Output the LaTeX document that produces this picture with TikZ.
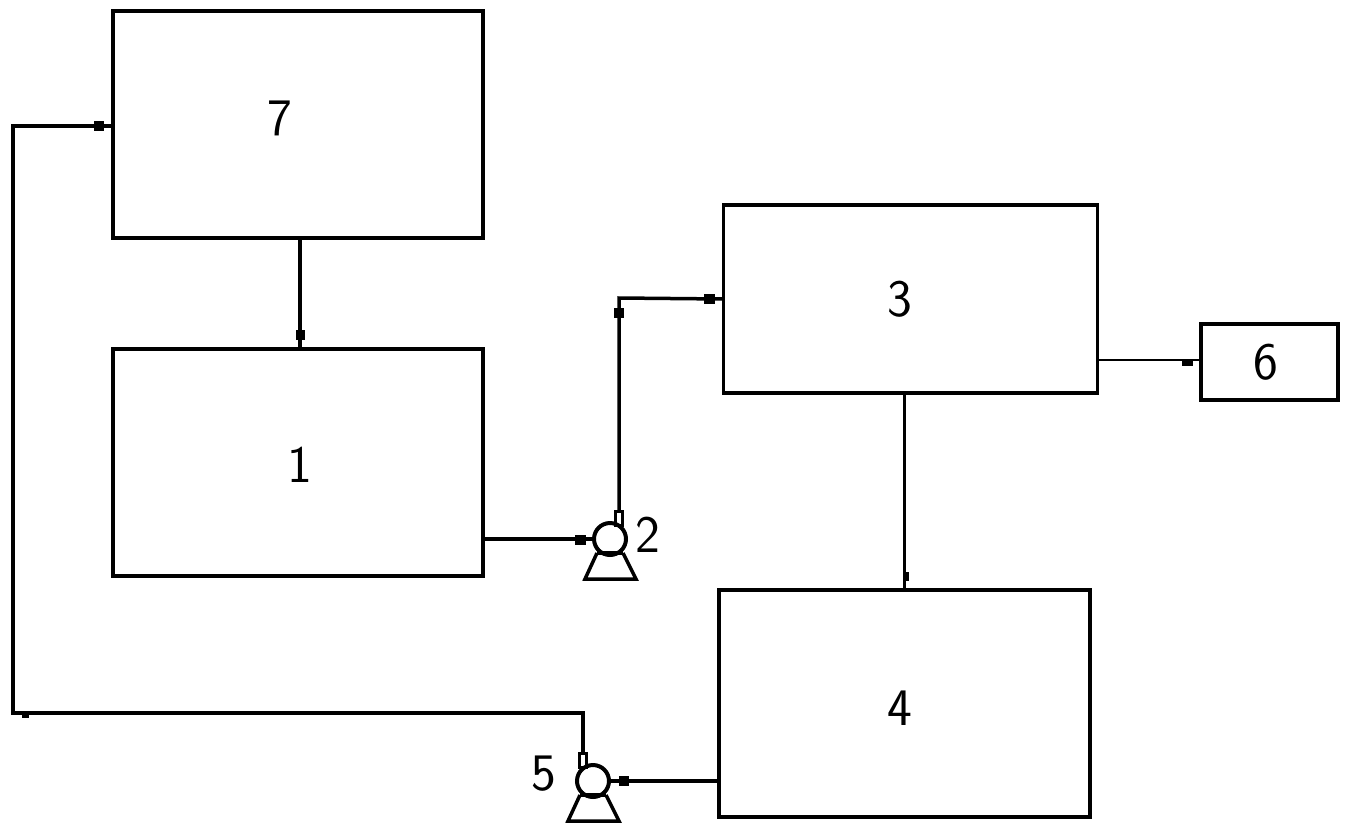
\documentclass[tikz,border=0pt]{standalone}
\usepackage{tikz}
\usetikzlibrary{calc}
\tikzset{
  pipe/.style={line width=0.07cm},
  thinpipe/.style={line width=0.055cm},
  tankbox/.style={draw,line width=0.07cm,inner sep=0pt,outer sep=0pt},
  valvebox/.style={fill=black,inner sep=0pt,outer sep=0pt},
  pumpbody/.style={draw,circle,line width=0.08cm,minimum size=0.64cm,inner sep=0pt,outer sep=0pt},
  pumpneck/.style={draw,line width=0.06cm,minimum width=0.14cm,minimum height=0.28cm,inner sep=0pt,outer sep=0pt},
  numlabl/.style={inner sep=0pt,font=\sffamily\fontsize{30}{30}\selectfont}
}
% name, centre x, centre y, width, height
\newcommand{\tank}[5]{\node[tankbox,minimum width=#4*0.02cm,minimum height=#5*0.02cm] (#1) at (#2,#3) {};}
% name, x, y, width, height
\newcommand{\valve}[5]{\node[valvebox,minimum width=#4*0.02cm,minimum height=#5*0.02cm] (#1) at (#2,#3) {};}
% name, centre x, centre y, neck offset
\newcommand{\pump}[4]{
  \node[pumpbody] (#1) at (#2,#3) {};
  \node[pumpneck] (#1neck) at (#2+#4,#3-21) {};
  \draw[pipe] (#2-13,#3+14) -- (#2+13,#3+14);
  \draw[pipe] (#2-13,#3+14) -- (#2-25,#3+40) -- (#2+26,#3+40) -- (#2+13,#3+14);
}
\newcommand{\labl}[4]{\node[numlabl] (#1) at (#2,#3) {#4};}

\begin{document}
\begin{tikzpicture}[x=0.02cm,y=-0.02cm]
        \useasboundingbox (0,0) rectangle (1353,836);
        % tanks
        \tank{boxseven}{298}{124.5}{370}{227}
        \tank{boxone}{298}{462.5}{370}{227}
        \tank{boxthree}{910.5}{299}{374}{188}
        \tank{boxsix}{1269.5}{362}{137}{76}
        \tank{boxfour}{904.5}{703.5}{371}{227}
        % pumps
        \pump{pumptwo}{610}{539}{9}
        \pump{pumpfive}{593}{781}{-10}
        % corners of the return line
        \coordinate (cornera) at (13,126);
        \coordinate (cornerb) at (13,713);
        \coordinate (cornerc) at (583,713);
        \coordinate (cornerd) at (619,298);
        % valves
        \valve{valvea}{99}{126}{10}{10}
        \valve{valveb}{300}{335}{9}{10}
        \valve{valvec}{619}{313}{10}{10}
        \valve{valved}{709}{299}{11}{10}
        \valve{valvee}{580}{540}{11}{10}
        \valve{valvef}{624}{781}{10}{10}
        \valve{valveg}{1187}{363}{11}{6}
        \valve{valveh}{906}{576}{5}{9}
        \valve{valvei}{25}{715}{7}{5}
        % pipes
        \draw[pipe] (valveb |- boxseven.south) -- (valveb |- boxone.north);
        \draw[pipe] (boxone.east |- pumptwo.west) -- (pumptwo.west);
        \draw[pipe] (pumptwoneck.north) -- (pumptwoneck.north |- cornerd) -- (boxthree.west);
        \draw[thinpipe] (boxthree.east |- 0,360) -- (boxsix.west |- 0,360);
        \draw[thinpipe] (boxfour.north) -- (boxfour.north |- boxthree.south);
        \draw[pipe] (boxfour.west |- pumpfive.east) -- (pumpfive.east);
        \draw[pipe] (pumpfiveneck.north) -- (pumpfiveneck.north |- cornerc) -- (cornerb) -- (cornera) -- (boxseven.west |- cornera);
        % numbers
        \labl{lablseven}{280}{118}{7}
        \labl{lablone}{300}{465}{1}
        \labl{labltwo}{648}{535}{2}
        \labl{lablthree}{900}{299}{3}
        \labl{lablfour}{900}{708}{4}
        \labl{lablfive}{544}{774}{5}
        \labl{lablsix}{1266}{362}{6}
    \end{tikzpicture}
\end{document}
